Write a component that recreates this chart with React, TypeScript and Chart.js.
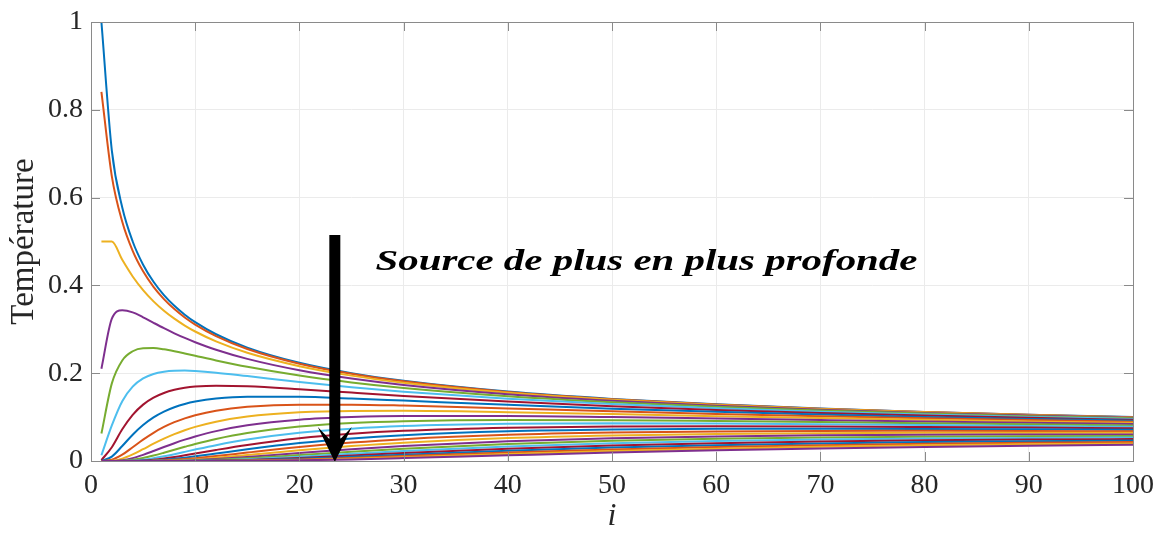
import React, { useEffect, useRef } from 'react';
import { Chart, registerables } from 'chart.js';

Chart.register(...registerables);

// depth index i (x values at which temperatures were read)
const iValues = [1, 2, 3, 4, 5, 6, 7, 8, 9, 10, 12, 15, 20, 25, 30, 40, 50, 60, 70, 80, 90, 100];

// temperature curves, one per source depth
const T01 = [1, 0.7071, 0.5774, 0.5, 0.4472, 0.4082, 0.378, 0.3536, 0.3333, 0.3162, 0.2887, 0.2582, 0.2236, 0.2, 0.1826, 0.1581, 0.1414, 0.1291, 0.1195, 0.1118, 0.1054, 0.1];
const T02 = [0.8409, 0.6484, 0.545, 0.4788, 0.432, 0.3966, 0.3687, 0.346, 0.327, 0.3108, 0.2846, 0.2552, 0.2217, 0.1986, 0.1815, 0.1574, 0.1409, 0.1287, 0.1192, 0.1116, 0.1052, 0.0998];
const T03 = [0.5, 0.5, 0.4583, 0.4204, 0.3893, 0.3637, 0.3423, 0.3242, 0.3086, 0.295, 0.2725, 0.2465, 0.216, 0.1945, 0.1784, 0.1554, 0.1395, 0.1276, 0.1183, 0.1108, 0.1046, 0.0993];
const T04 = [0.2102, 0.3242, 0.3433, 0.3386, 0.3274, 0.3148, 0.3025, 0.2909, 0.2803, 0.2706, 0.2535, 0.2327, 0.2068, 0.1879, 0.1733, 0.1521, 0.1371, 0.1258, 0.1169, 0.1096, 0.1036, 0.0985];
const T05 = [0.0625, 0.1768, 0.2291, 0.25, 0.2568, 0.2572, 0.2543, 0.25, 0.245, 0.2397, 0.2291, 0.2146, 0.1947, 0.179, 0.1664, 0.1475, 0.1338, 0.1233, 0.1149, 0.108, 0.1022, 0.0973];
const T06 = [0.0131, 0.0811, 0.1362, 0.1693, 0.188, 0.1983, 0.2035, 0.2057, 0.206, 0.205, 0.2012, 0.1934, 0.1801, 0.1682, 0.158, 0.1419, 0.1297, 0.1201, 0.1123, 0.1059, 0.1005, 0.0958];
const T07 = [0.002, 0.0313, 0.0722, 0.1051, 0.1284, 0.1443, 0.155, 0.1621, 0.1667, 0.1695, 0.1716, 0.1704, 0.1637, 0.1558, 0.1483, 0.1353, 0.1248, 0.1163, 0.1093, 0.1034, 0.0983, 0.094];
const T08 = [0.0002, 0.0101, 0.0341, 0.0599, 0.0818, 0.0992, 0.1124, 0.1223, 0.1298, 0.1353, 0.1423, 0.1466, 0.1463, 0.1424, 0.1376, 0.1279, 0.1193, 0.1121, 0.1059, 0.1005, 0.0959, 0.0919];
const T09 = [0, 0.0028, 0.0143, 0.0313, 0.0487, 0.0643, 0.0775, 0.0884, 0.0972, 0.1043, 0.1146, 0.1233, 0.1284, 0.1283, 0.1262, 0.1198, 0.1133, 0.1073, 0.102, 0.0973, 0.0932, 0.0895];
const T10 = [0, 0.0006, 0.0054, 0.015, 0.027, 0.0394, 0.0509, 0.0612, 0.0701, 0.0777, 0.0896, 0.1013, 0.1108, 0.1141, 0.1143, 0.1113, 0.1068, 0.1022, 0.0978, 0.0938, 0.0902, 0.0869];
const T11 = [0, 0.0001, 0.0018, 0.0066, 0.014, 0.0227, 0.0318, 0.0405, 0.0486, 0.0559, 0.0681, 0.0813, 0.094, 0.1, 0.1025, 0.1025, 0.1, 0.0967, 0.0933, 0.09, 0.087, 0.0841];
const T12 = [0, 0, 0.0005, 0.0026, 0.0067, 0.0124, 0.0189, 0.0257, 0.0324, 0.0389, 0.0503, 0.0638, 0.0784, 0.0865, 0.0908, 0.0936, 0.093, 0.091, 0.0886, 0.086, 0.0835, 0.0811];
const T13 = [0, 0, 0, 0.001, 0.003, 0.0064, 0.0107, 0.0156, 0.0208, 0.0261, 0.0361, 0.0489, 0.0642, 0.0737, 0.0795, 0.0847, 0.0859, 0.0852, 0.0837, 0.0818, 0.0799, 0.0779];
const T14 = [0, 0, 0, 0.0003, 0.0013, 0.0031, 0.0058, 0.0091, 0.0129, 0.0169, 0.0252, 0.0366, 0.0517, 0.062, 0.0688, 0.076, 0.0787, 0.0792, 0.0787, 0.0775, 0.0761, 0.0746];
const T15 = [0, 0, 0, 0, 0.0005, 0.0014, 0.0029, 0.0051, 0.0077, 0.0106, 0.017, 0.0268, 0.0409, 0.0514, 0.0588, 0.0676, 0.0717, 0.0733, 0.0736, 0.0731, 0.0723, 0.0712];
const T16 = [0, 0, 0, 0, 0.0002, 0.0006, 0.0014, 0.0027, 0.0044, 0.0064, 0.0112, 0.0192, 0.0318, 0.042, 0.0498, 0.0597, 0.0648, 0.0674, 0.0685, 0.0687, 0.0683, 0.0677];
const T17 = [0, 0, 0, 0, 0, 0.0003, 0.0007, 0.0014, 0.0024, 0.0037, 0.0072, 0.0134, 0.0243, 0.0339, 0.0416, 0.0522, 0.0582, 0.0616, 0.0634, 0.0642, 0.0644, 0.0642];
const T18 = [0, 0, 0, 0, 0, 0, 0.0003, 0.0007, 0.0013, 0.0021, 0.0044, 0.0092, 0.0183, 0.027, 0.0344, 0.0452, 0.0519, 0.056, 0.0584, 0.0598, 0.0604, 0.0606];
const T19 = [0, 0, 0, 0, 0, 0, 0, 0.0003, 0.0007, 0.0012, 0.0027, 0.0061, 0.0135, 0.0212, 0.0281, 0.0388, 0.046, 0.0506, 0.0536, 0.0554, 0.0565, 0.057];
const T20 = [0, 0, 0, 0, 0, 0, 0, 0, 0.0003, 0.0006, 0.0016, 0.004, 0.0098, 0.0164, 0.0227, 0.0331, 0.0405, 0.0455, 0.0489, 0.0511, 0.0526, 0.0535];
const T21 = [0, 0, 0, 0, 0, 0, 0, 0, 0, 0.0003, 0.0009, 0.0025, 0.007, 0.0125, 0.0181, 0.028, 0.0354, 0.0407, 0.0444, 0.047, 0.0488, 0.05];
const T22 = [0, 0, 0, 0, 0, 0, 0, 0, 0, 0.0002, 0.0005, 0.0016, 0.0049, 0.0094, 0.0143, 0.0234, 0.0307, 0.0361, 0.0401, 0.043, 0.0451, 0.0466];
const T23 = [0, 0, 0, 0, 0, 0, 0, 0, 0, 0, 0.0003, 0.001, 0.0034, 0.007, 0.0112, 0.0194, 0.0264, 0.0319, 0.0361, 0.0392, 0.0415, 0.0432];
const T24 = [0, 0, 0, 0, 0, 0, 0, 0, 0, 0, 0.0001, 0.0006, 0.0023, 0.0051, 0.0086, 0.016, 0.0226, 0.028, 0.0323, 0.0356, 0.0381, 0.04];
const T25 = [0, 0, 0, 0, 0, 0, 0, 0, 0, 0, 0, 0.0003, 0.0015, 0.0037, 0.0066, 0.013, 0.0192, 0.0245, 0.0287, 0.0321, 0.0348, 0.0369];

const series = [T01, T02, T03, T04, T05, T06, T07, T08, T09, T10, T11, T12, T13, T14, T15, T16, T17, T18, T19, T20, T21, T22, T23, T24, T25];

const lineColors = ['#0072BD', '#D95319', '#EDB120', '#7E2F8E', '#77AC30', '#4DBEEE', '#A2142F'];

const xTicks = [0, 10, 20, 30, 40, 50, 60, 70, 80, 90, 100];
const xTickLabels = ['0', '10', '20', '30', '40', '50', '60', '70', '80', '90', '100'];
const yTicks = [0, 0.2, 0.4, 0.6, 0.8, 1];
const yTickLabels = ['0', '0.2', '0.4', '0.6', '0.8', '1'];

const xTitle = 'i';
const yTitle = 'Température';

// annotation (data coordinates)
const arrowX = 23.4;
const arrowTopY = 0.515;
const arrowTipY = 0;
const noteX = 27.3;
const noteY = 0.435;
const noteText = 'Source de plus en plus profonde';

const SERIF = "'Liberation Serif', serif";
const AXIS_GRAY = '#8a8a8a';

const overlay = {
  id: 'overlay',
  afterDatasetsDraw(chart: any) {
    const { ctx, scales } = chart;
    const x = scales.x;
    const y = scales.y;
    ctx.save();
    // arrow
    const ax = x.getPixelForValue(arrowX);
    const top = y.getPixelForValue(arrowTopY);
    const tip = y.getPixelForValue(arrowTipY);
    ctx.fillStyle = '#000';
    ctx.beginPath();
    ctx.moveTo(ax - 5.5, top);
    ctx.lineTo(ax - 5.5, tip - 22);
    ctx.lineTo(ax - 17, tip - 34);
    ctx.lineTo(ax, tip + 1);
    ctx.lineTo(ax + 17, tip - 34);
    ctx.lineTo(ax + 5.5, tip - 22);
    ctx.lineTo(ax + 5.5, top);
    ctx.closePath();
    ctx.fill();
    // note
    const nx = x.getPixelForValue(noteX);
    const ny = y.getPixelForValue(noteY);
    ctx.font = "italic bold 29px 'Liberation Serif', serif";
    ctx.textBaseline = 'alphabetic';
    ctx.textAlign = 'left';
    const w = ctx.measureText(noteText).width;
    const target = 542;
    ctx.translate(nx, ny);
    ctx.scale(target / w, 1);
    ctx.fillStyle = '#000';
    ctx.fillText(noteText, 0, 0);
    ctx.restore();
  },
  afterDraw(chart: any) {
    const { ctx, chartArea: a, scales } = chart;
    const x = scales.x;
    const y = scales.y;
    ctx.save();
    ctx.strokeStyle = AXIS_GRAY;
    ctx.lineWidth = 1;
    ctx.strokeRect(Math.round(a.left) + 0.5, Math.round(a.top) + 0.5, Math.round(a.right - a.left), Math.round(a.bottom - a.top));
    const tl = 9;
    ctx.beginPath();
    xTicks.forEach((v) => {
      const px = Math.round(x.getPixelForValue(v)) + 0.5;
      ctx.moveTo(px, a.bottom);
      ctx.lineTo(px, a.bottom - tl);
      ctx.moveTo(px, a.top);
      ctx.lineTo(px, a.top + tl);
    });
    yTicks.forEach((v) => {
      const py = Math.round(y.getPixelForValue(v)) + 0.5;
      ctx.moveTo(a.left, py);
      ctx.lineTo(a.left + tl, py);
      ctx.moveTo(a.right, py);
      ctx.lineTo(a.right - tl, py);
    });
    ctx.stroke();
    ctx.restore();
  },
};

export default function App() {
  const ref = useRef<HTMLCanvasElement>(null);
  useEffect(() => {
    if (!ref.current) return;
    const datasets = series.map((s, k) => ({
      label: 'T' + (k + 1),
      data: iValues.map((xv, j) => ({ x: xv, y: s[j] })),
      borderColor: lineColors[k % lineColors.length],
      backgroundColor: lineColors[k % lineColors.length],
      borderWidth: 2,
      pointRadius: 0,
      cubicInterpolationMode: 'monotone' as const,
      fill: false,
      order: -k,
    }));
    const chart = new Chart(ref.current, {
      type: 'line',
      data: { datasets },
      options: {
        animation: false,
        responsive: true,
        maintainAspectRatio: false,
        layout: { padding: { top: 22, right: 26, left: 0, bottom: 0 } },
        plugins: { legend: { display: false }, tooltip: { enabled: false } },
        scales: {
          x: {
            type: 'linear',
            min: 0,
            max: 100,
            afterBuildTicks: (s: any) => {
              s.ticks = xTicks.map((v) => ({ value: v }));
            },
            afterFit: (s: any) => {
              s.height = 72;
              s.paddingLeft = 0;
              s.paddingRight = 0;
            },
            ticks: {
              callback: (_v: any, i: number) => xTickLabels[i],
              font: { family: SERIF, size: 28 },
              color: '#262626',
              padding: 8,
              maxRotation: 0,
              autoSkip: false,
            },
            grid: { color: '#ebebeb', drawTicks: false },
            border: { display: false },
            title: {
              display: true,
              text: xTitle,
              font: { family: SERIF, size: 32, style: 'italic' },
              color: '#262626',
              padding: { top: 0, bottom: -3 },
            },
          },
          y: {
            type: 'linear',
            min: 0,
            max: 1,
            afterBuildTicks: (s: any) => {
              s.ticks = yTicks.map((v) => ({ value: v }));
            },
            afterFit: (s: any) => {
              s.width = 91;
              s.paddingTop = 0;
              s.paddingBottom = 0;
            },
            ticks: {
              callback: (_v: any, i: number) => yTickLabels[i],
              font: { family: SERIF, size: 28 },
              color: '#262626',
              padding: 8,
              autoSkip: false,
            },
            grid: { color: '#ebebeb', drawTicks: false },
            border: { display: false },
            title: {
              display: true,
              text: yTitle,
              font: { family: SERIF, size: 33 },
              color: '#262626',
              padding: { top: 5, bottom: 0 },
            },
          },
        },
      },
      plugins: [overlay],
    });
    return () => chart.destroy();
  }, []);
  return (
    <div style={{ position: 'fixed', left: 0, top: 0, width: 1159, height: 533, background: '#fff' }}>
      <canvas ref={ref} />
    </div>
  );
}
